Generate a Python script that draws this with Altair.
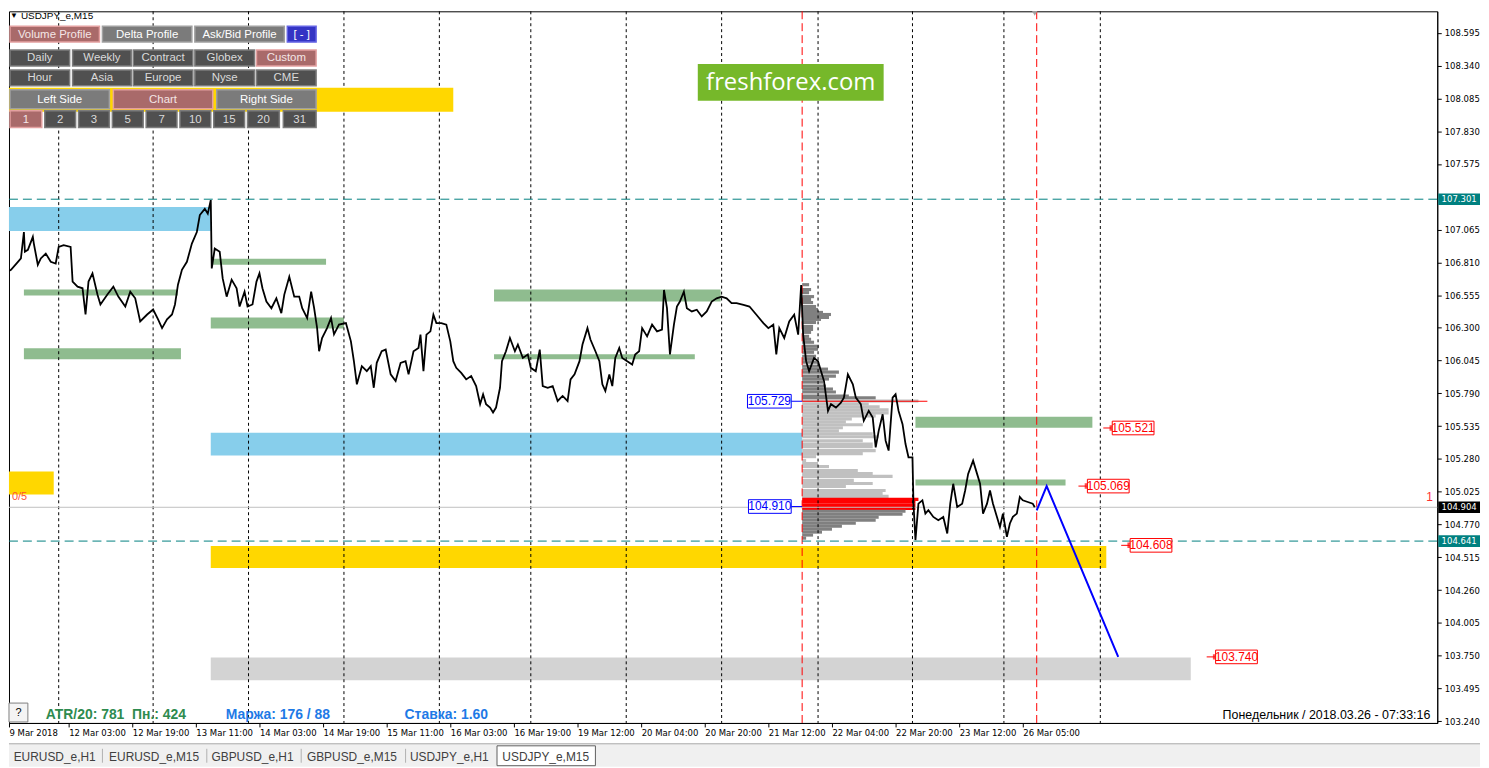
import json
import altair as alt
import pandas as pd

AX_FONT = "DejaVu Sans Condensed, Liberation Sans Narrow, DejaVu Sans"
UI_FONT = "Liberation Sans, Arial, sans-serif"

# ---------------- data ----------------
# M15 close series (bar index, price)
bars = [0,6,13,16,19,20,23,28,29,33,36,41,46,51,54,59,66,68,73,78,81,84,88,93,96,103,109,114,121,126,
        131,136,143,149,154,158,163,168,171,174,178,183,188,193,196,201,204,207,208,211,216,219,223,228,233,
        236,241,244,249,253,256,259,263,268,273,278,281,286,291,296,299,304,308,311,314,316,319,324,328,331,
        336,343,348,351,354,359,364,368,371,374,379,383,388,393,398,403,406,411,416,
        418,421,424,428,431,434,439,444,448,451,454,459,464,469,474,478,481,484,488,491,494,498,500,504,508,
        513,516,521,526,529,534,538,541,546,551,556,561,566,569,573,578,581,586,589,594,598,601,604,608,611,
        614,618,621,626,631,634,638,641,646,651,656,661,663,666,669,673,676,679,683,686,691,696,701,706,711,
        716,721,726,731,736,743,749,756,763,768,773,776,779,784,789,794,798,801,
        803,806,809,814,818,821,824,828,831,836,841,844,848,853,856,861,864,869,873,876,879,883,886,889,893,
        896,899,903,906,909,913,914,916,919,923,926,929,934,939,944,948,951,954,958,963,966,969,974,978,981,
        984,988,991,994,998,1001,1004,1008,1011,1014,1018,1021,1024,1029,1034,1036]
close = [106.724,106.752,106.814,106.840,107.046,106.892,106.907,107.008,106.956,106.791,106.840,106.878,
         106.814,106.801,106.930,106.943,106.930,106.660,106.621,106.608,106.404,106.660,106.724,106.559,
         106.482,106.559,106.621,106.543,106.466,106.582,106.530,106.350,106.404,106.443,106.366,106.298,
         106.366,106.404,106.482,106.636,106.752,106.814,106.956,107.046,107.178,107.226,107.188,107.294,
         106.762,106.917,106.892,106.685,106.543,106.675,106.608,106.466,106.582,106.466,106.482,106.660,
         106.724,106.608,106.505,106.453,106.530,106.414,106.559,106.698,106.543,106.543,106.453,106.376,
         106.582,106.453,106.298,106.118,106.221,106.298,106.376,106.250,106.325,106.337,106.195,106.041,
         105.861,106.002,105.963,106.002,105.834,106.028,106.118,106.131,105.938,105.886,106.028,106.041,
         105.938,106.118,106.144,
         106.247,105.963,106.247,106.273,106.402,106.337,106.337,106.325,106.195,106.041,105.989,105.950,
         105.899,105.925,105.847,105.706,105.783,105.706,105.680,105.641,105.680,105.834,106.041,106.118,
         106.221,106.118,106.170,106.066,106.093,105.989,105.963,106.131,105.847,105.834,105.847,105.731,
         105.770,105.731,105.899,105.938,106.041,106.170,106.298,106.209,106.118,106.041,105.861,105.809,
         105.938,105.847,106.066,106.144,106.066,106.041,106.015,106.093,106.118,106.298,106.234,106.325,
         106.273,106.286,106.595,106.453,106.093,106.325,106.466,106.505,106.582,106.453,106.428,106.441,
         106.389,106.428,106.505,106.530,106.543,106.530,106.492,106.492,106.479,106.466,106.402,106.337,
         106.298,106.325,106.093,106.298,106.221,106.350,106.402,106.247,106.634,
         106.247,106.041,105.963,106.066,106.041,105.963,105.886,105.654,105.706,105.680,105.718,105.757,
         105.938,105.861,105.757,105.706,105.577,105.654,105.602,105.370,105.499,105.628,105.422,105.345,
         105.757,105.783,105.654,105.551,105.396,105.293,105.293,104.932,104.649,104.932,104.958,104.855,
         104.881,104.829,104.803,104.829,104.700,104.932,105.087,104.906,104.932,105.035,105.164,105.267,
         105.164,105.087,104.855,104.932,105.035,104.932,104.829,104.751,104.855,104.674,104.778,104.829,
         104.855,104.984,104.958,104.945,104.932,104.904]
assert len(bars) == len(close), (len(bars), len(close))

# supply / demand zones
zone_kind = ["blue", "green", "green", "green", "green", "green", "green", "blue", "yellow", "yellow", "gray", "green", "green"]
zone_start = [0, 19, 19, 208, 207, 492, 492, 207, 0, 207, 207, 916, 916]
zone_end = [207, 174, 177, 323, 341, 720, 694, 802, 49, 1108, 1193, 1094, 1067]
zone_hi = [107.240, 106.598, 106.141, 106.837, 106.381, 106.598, 106.095, 105.484, 105.182, 104.602, 103.736, 105.608, 105.120]
zone_lo = [107.054, 106.551, 106.056, 106.791, 106.296, 106.505, 106.056, 105.306, 105.004, 104.432, 103.558, 105.523, 105.074]

# volume profile (starts at bar 802)
prof_start = 802
prof_price = [106.636,106.598,106.574,106.543,106.520,106.497,106.466,106.443,106.420,106.404,106.381,106.366,
              106.342,106.311,106.288,106.265,106.234,106.211,106.188,106.157,106.134,106.110,106.079,106.056,
              106.033,106.002,105.979,105.956,105.925,105.902,105.878,105.847,105.824,105.801,105.770,105.755,
              105.731,105.708,105.685,105.662,105.639,105.615,105.592,105.569,105.546,105.523,105.499,105.476,
              105.453,105.422,105.396,105.376,105.345,105.322,105.298,105.267,105.244,105.221,105.190,105.167,
              105.144,105.113,105.089,105.066,105.035,105.012,104.989,
              104.966,104.943,104.919,104.896,
              104.873,104.850,104.827,104.803,104.780,104.757,104.734,104.711,104.688,104.664]
prof_vol = [7,9,7,12,9,11,14,16,21,29,27,19,14,11,11,9,7,9,12,17,16,12,14,11,16,17,26,37,34,27,21,24,31,34,47,74,
            117,67,78,87,87,74,50,44,61,41,37,71,77,61,71,71,74,61,14,4,16,27,56,71,91,52,71,44,84,81,87,
            117,114,114,114,
            104,101,77,74,54,40,30,20,11,4]
prof_kind = ["dark"] * 36 + ["light"] * 31 + ["poc"] * 4 + ["dark"] * 10
assert len(prof_price) == len(prof_vol) == len(prof_kind)

day_breaks = [54, 149, 245, 341, 437, 529, 625, 721, 818, 913, 1005, 1102]
session_marks = [802, 1038]

forecast_bar = [1038, 1048, 1120]
forecast_price = [104.880, 105.069, 103.740]

target_price = [105.521, 105.069, 104.608, 103.740]
target_bar = [1114, 1089, 1132, 1218]
va_price = [105.729, 104.910]
va_bar = [747, 748]

bid_price = 104.904
level_lines = [107.301, 104.641]
tag_price = [107.301, 104.904, 104.641]
tag_kind = ["level", "bid", "level"]

time_ticks = [4] + [64 * i for i in range(1, 17)]
time_labels = ["9 Mar 2018", "12 Mar 03:00", "12 Mar 19:00", "13 Mar 11:00", "14 Mar 03:00", "14 Mar 19:00",
               "15 Mar 11:00", "16 Mar 03:00", "16 Mar 19:00", "19 Mar 12:00", "20 Mar 04:00", "20 Mar 20:00",
               "21 Mar 12:00", "22 Mar 04:00", "22 Mar 20:00", "23 Mar 12:00", "26 Mar 05:00"]
# 107.320 is hidden behind the 107.301 price tag in the terminal
y_ticks = [103.240, 103.495, 103.750, 104.005, 104.260, 104.515, 104.770, 105.025, 105.280, 105.535, 105.790,
           106.045, 106.300, 106.555, 106.810, 107.065, 107.575, 107.830, 108.085, 108.340, 108.595]

# ---------------- styles ----------------
ZONE_COL = {"blue": "#87CEEB", "green": "#8FBC8F", "yellow": "#FFD700", "gray": "#D3D3D3"}
PROF_COL = {"dark": "#808080", "light": "#C0C0C0", "poc": "#FF0000"}
TAG_COL = {"level": "#008080", "bid": "#000000"}

W, H = 1437, 716
xs = alt.Scale(domain=[4, 1441], nice=False, zero=False)
ys = alt.Scale(domain=[103.226, 108.763], nice=False, zero=False)

x_axis = alt.Axis(values=time_ticks, labelExpr=json.dumps(time_labels) + "[round(datum.value / 64)]",
                  title=None, grid=False, tickSize=4, tickColor="black", domainColor="black",
                  labelAlign="left", labelBaseline="top", labelPadding=1, labelFont=AX_FONT,
                  labelFontSize=9.5, labelColor="black", labelOverlap=False, labelFlush=False, labelBound=False)
y_axis = alt.Axis(orient="right", values=y_ticks, format=".3f", title=None, grid=False, tickSize=4,
                  tickColor="black", domainColor="black", labelPadding=3, labelFont=AX_FONT, labelFontSize=9.5,
                  labelColor="black", labelOverlap=False, labelFlush=False, labelBound=False)


def X(f):
    return alt.X(f + ":Q", scale=xs, axis=x_axis)


def Y(f):
    return alt.Y(f + ":Q", scale=ys, axis=y_axis)


def PX(f):
    return alt.X(f + ":Q", scale=None, axis=None)


def PY(f):
    return alt.Y(f + ":Q", scale=None, axis=None)


layers = []

# zones
dz = pd.DataFrame({"x0": zone_start, "x1": zone_end, "hi": zone_hi, "lo": zone_lo,
                   "c": [ZONE_COL[k] for k in zone_kind]})
layers.append(alt.Chart(dz).mark_rect(clip=True).encode(
    x=X("x0"), x2="x1", y=Y("hi"), y2="lo", color=alt.Color("c:N", scale=None)))

# volume profile
dp = pd.DataFrame({"x0": [prof_start] * len(prof_vol),
                   "x1": [prof_start + v for v in prof_vol],
                   "hi": [p + 0.0122 for p in prof_price],
                   "lo": [p - 0.0122 for p in prof_price],
                   "c": [PROF_COL[k] for k in prof_kind]})
layers.append(alt.Chart(dp).mark_rect().encode(
    x=X("x0"), x2="x1", y=Y("hi"), y2="lo", color=alt.Color("c:N", scale=None)))

# vertical separators
layers.append(alt.Chart(pd.DataFrame({"x": day_breaks})).mark_rule(
    color="black", strokeDash=[3, 3], strokeWidth=1).encode(x=X("x")))
layers.append(alt.Chart(pd.DataFrame({"x": session_marks})).mark_rule(
    color="#FF0000", strokeDash=[8, 4], strokeWidth=1).encode(x=X("x")))

# horizontal lines
layers.append(alt.Chart(pd.DataFrame({"p": [bid_price]})).mark_rule(
    color="#C0C0C0", strokeWidth=1).encode(y=Y("p")))
layers.append(alt.Chart(pd.DataFrame({"p": level_lines})).mark_rule(
    color="#008080", strokeDash=[9, 5], strokeWidth=1).encode(y=Y("p")))
layers.append(alt.Chart(pd.DataFrame({"x0": [prof_start], "x1": [928], "p": [va_price[0]]})).mark_rule(
    color="#FF0000", strokeWidth=1).encode(x=X("x0"), x2="x1", y=Y("p")))

# price
layers.append(alt.Chart(pd.DataFrame({"bar": bars, "close": close})).mark_line(
    color="black", strokeWidth=1.8, clip=True).encode(x=X("bar"), y=Y("close")))

# forecast
layers.append(alt.Chart(pd.DataFrame({"bar": forecast_bar, "p": forecast_price})).mark_line(
    color="#0000FF", strokeWidth=2).encode(x=X("bar"), y=Y("p")))

# target labels (red)
dt = pd.DataFrame({"p": target_price, "b": target_bar})
dt["c0"] = dt["b"] - 9
dt["b1"] = dt["b"] + 42
dt["mid"] = dt["b"] + 21
dt["hi"] = dt["p"] + 0.053
dt["lo"] = dt["p"] - 0.053
dt["t"] = [f"{v:.3f}" for v in target_price]
layers.append(alt.Chart(dt).mark_rule(color="#FF0000").encode(x=X("c0"), x2="b", y=Y("p")))
layers.append(alt.Chart(dt).mark_square(color="#FF0000", filled=False, size=12).encode(x=X("b"), y=Y("p")))
layers.append(alt.Chart(dt).mark_rect(fill="white", stroke="#FF0000", strokeWidth=1).encode(
    x=X("b"), x2="b1", y=Y("hi"), y2="lo"))
layers.append(alt.Chart(dt).mark_text(color="#FF0000", font=UI_FONT, fontSize=12, align="center",
                                      baseline="middle").encode(x=X("mid"), y=Y("p"), text="t:N"))

# value-area labels (blue)
dv = pd.DataFrame({"p": va_price, "b": va_bar})
dv["b1"] = 791
dv["c1"] = prof_start
dv["mid"] = (dv["b"] + dv["b1"]) / 2
dv["hi"] = dv["p"] + 0.053
dv["lo"] = dv["p"] - 0.053
dv["t"] = [f"{v:.3f}" for v in va_price]
layers.append(alt.Chart(dv).mark_rule(color="#0000FF").encode(x=X("b1"), x2="c1", y=Y("p")))
layers.append(alt.Chart(dv).mark_rect(fill="white", stroke="#0000FF", strokeWidth=1).encode(
    x=X("b"), x2="b1", y=Y("hi"), y2="lo"))
layers.append(alt.Chart(dv).mark_text(color="#0000FF", font=UI_FONT, fontSize=12, align="center",
                                      baseline="middle").encode(x=X("mid"), y=Y("p"), text="t:N"))

# price tags on the right axis
dg = pd.DataFrame({"p": tag_price, "c": [TAG_COL[k] for k in tag_kind]})
dg["x0"] = 1442
dg["x1"] = 1484
dg["mid"] = 1463
dg["hi"] = dg["p"] + 0.045
dg["lo"] = dg["p"] - 0.045
dg["t"] = [f"{v:.3f}" for v in tag_price]
layers.append(alt.Chart(dg).mark_rect().encode(
    x=X("x0"), x2="x1", y=Y("hi"), y2="lo", color=alt.Color("c:N", scale=None)))
layers.append(alt.Chart(dg).mark_text(color="white", font=AX_FONT, fontSize=9.5, align="center",
                                      baseline="middle").encode(x=X("mid"), y=Y("p"), text="t:N"))

# ---------------- terminal chrome (pixel positioned) ----------------
ROSY = ("#A96A6A", "#E3A0A0", "#F4E6E6")
GREY = ("#7B7B7B", "#A0A0A0", "#FFFFFF")
DARK = ("#505050", "#7C7C7C", "#DADADA")
BLUE = ("#3434C4", "#6464E4", "#FFFFFF")
buttons = [
    ("Volume Profile", 1, 91, 15, 31, ROSY), ("Delta Profile", 94, 184, 15, 31, GREY),
    ("Ask/Bid Profile", 187, 277, 15, 31, GREY), ("[ - ]", 280, 309, 15, 31, BLUE),
    ("Daily", 1, 61, 39, 55, DARK), ("Weekly", 64, 123, 39, 55, DARK), ("Contract", 125, 185, 39, 55, DARK),
    ("Globex", 187, 247, 39, 55, DARK), ("Custom", 249, 309, 39, 55, ROSY),
    ("Hour", 1, 61, 59, 75, DARK), ("Asia", 64, 123, 59, 75, DARK), ("Europe", 125, 185, 59, 75, DARK),
    ("Nyse", 187, 247, 59, 75, DARK), ("CME", 249, 309, 59, 75, DARK),
    ("Left Side", 1, 101, 79, 98, GREY), ("Chart", 105, 205, 79, 98, ROSY), ("Right Side", 209, 309, 79, 98, GREY),
    ("1", 1, 33, 100, 117, ROSY), ("2", 36, 67, 100, 117, DARK), ("3", 70, 101, 100, 117, DARK),
    ("5", 104, 135, 100, 117, DARK), ("7", 138, 169, 100, 117, DARK), ("10", 172, 203, 100, 117, DARK),
    ("15", 206, 237, 100, 117, DARK), ("20", 240, 272, 100, 117, DARK), ("31", 276, 309, 100, 117, DARK),
]
db = pd.DataFrame([{"t": b[0], "x0": b[1], "x1": b[2], "y0": b[3], "y1": b[4],
                    "f": b[5][0], "s": b[5][1], "tc": b[5][2]} for b in buttons])
db["xm"] = (db["x0"] + db["x1"]) / 2
db["ym"] = (db["y0"] + db["y1"]) / 2 + 0.5

panel = pd.DataFrame({"x0": [0], "x1": [447], "y0": [77], "y1": [101]})
layers.append(alt.Chart(panel).mark_rect(color="#FFD700").encode(x=PX("x0"), x2="x1", y=PY("y0"), y2="y1"))
layers.append(alt.Chart(db).mark_rect(strokeWidth=1.5).encode(
    x=PX("x0"), x2="x1", y=PY("y0"), y2="y1",
    fill=alt.Fill("f:N", scale=None), stroke=alt.Stroke("s:N", scale=None)))
layers.append(alt.Chart(db).mark_text(font=UI_FONT, fontSize=11.5, align="center", baseline="middle").encode(
    x=PX("xm"), y=PY("ym"), text="t:N", color=alt.Color("tc:N", scale=None)))

# logo
logo = pd.DataFrame({"x0": [693], "x1": [880], "y0": [53], "y1": [90], "xm": [786.5], "ym": [72], "t": ["freshforex.com"]})
layers.append(alt.Chart(logo).mark_rect(color="#76B82A").encode(x=PX("x0"), x2="x1", y=PY("y0"), y2="y1"))
layers.append(alt.Chart(logo).mark_text(color="white", font="Open Sans, Liberation Sans", fontSize=24,
                                        align="center", baseline="middle").encode(x=PX("xm"), y=PY("ym"), text="t:N"))

# help button
helpb = pd.DataFrame({"x0": [0], "x1": [19], "y0": [696], "y1": [715], "xm": [9.5], "ym": [705.5], "t": ["?"]})
layers.append(alt.Chart(helpb).mark_rect(fill="#F4F4F4", stroke="#808080").encode(
    x=PX("x0"), x2="x1", y=PY("y0"), y2="y1"))
layers.append(alt.Chart(helpb).mark_text(color="black", font=UI_FONT, fontSize=11, align="center",
                                         baseline="middle").encode(x=PX("xm"), y=PY("ym"), text="t:N"))

# free texts
NB = "\u00a0"
texts = pd.DataFrame([
    {"t": "▼", "x": 1, "y": 5, "c": "#000000", "s": 8, "w": "normal", "a": "left"},
    {"t": "USDJPY_e,M15", "x": 12, "y": 5, "c": "#000000", "s": 10, "w": "normal", "a": "left"},
    {"t": "0/5", "x": 3, "y": 489, "c": "#FF5030", "s": 11, "w": "normal", "a": "left"},
    {"t": "1", "x": 1426, "y": 489, "c": "#FF3030", "s": 12, "w": "normal", "a": "left"},
    {"t": "ATR/20: 781" + NB + NB + "Пн.: 424", "x": 37, "y": 708, "c": "#2E8B4F", "s": 14, "w": "bold", "a": "left"},
    {"t": "Маржа: 176 / 88", "x": 218, "y": 708, "c": "#1E7AE6", "s": 14, "w": "bold", "a": "left"},
    {"t": "Ставка: 1.60", "x": 398, "y": 708, "c": "#1E7AE6", "s": 14, "w": "bold", "a": "left"},
    {"t": "Понедельник / 2018.03.26 - 07:33:16", "x": 1430, "y": 708, "c": "#000000", "s": 12.5, "w": "normal", "a": "right"},
])
for w in ["normal", "bold"]:
    for a in ["left", "right"]:
        sub = texts[(texts["w"] == w) & (texts["a"] == a)]
        if len(sub) == 0:
            continue
        layers.append(alt.Chart(sub).mark_text(font=UI_FONT, fontWeight=w, align=a, baseline="middle").encode(
            x=PX("x"), y=PY("y"), text="t:N", color=alt.Color("c:N", scale=None),
            size=alt.Size("s:Q", scale=None)))

# top marker
layers.append(alt.Chart(pd.DataFrame({"x": [1032], "y": [2]})).mark_point(
    shape="triangle-down", filled=True, color="#A0A0A0", size=30, opacity=1).encode(x=PX("x"), y=PY("y")))

# tab bar
tabbar = pd.DataFrame({"x0": [0], "x1": [1480], "y0": [738], "y1": [760]})
layers.append(alt.Chart(tabbar).mark_rect(color="#F0F0F0").encode(x=PX("x0"), x2="x1", y=PY("y0"), y2="y1"))
layers.append(alt.Chart(pd.DataFrame({"x0": [0], "x1": [1480], "y": [737]})).mark_rule(color="#A0A0A0").encode(
    x=PX("x0"), x2="x1", y=PY("y")))
tab_names = ["EURUSD_e,H1", "EURUSD_e,M15", "GBPUSD_e,H1", "GBPUSD_e,M15", "USDJPY_e,H1", "USDJPY_e,M15"]
tab_mid = [46, 146, 245, 345, 443, 540]
active = pd.DataFrame({"x0": [491], "x1": [590], "y0": [739], "y1": [759]})
layers.append(alt.Chart(active).mark_rect(fill="white", stroke="#606060").encode(
    x=PX("x0"), x2="x1", y=PY("y0"), y2="y1"))
layers.append(alt.Chart(pd.DataFrame({"x": [94, 199, 294, 399], "y0": [742] * 4, "y1": [756] * 4})).mark_rule(
    color="#B0B0B0").encode(x=PX("x"), y=PY("y0"), y2="y1"))
layers.append(alt.Chart(pd.DataFrame({"x": tab_mid, "y": [750] * 6, "t": tab_names})).mark_text(
    font=UI_FONT, fontSize=12, color="#404040", align="center", baseline="middle").encode(
    x=PX("x"), y=PY("y"), text="t:N"))

chart = alt.layer(*layers).properties(width=W, height=H, padding=0, background="white").configure_view(
    stroke="black", strokeWidth=1)

chart.save("out.html", embed_options={"renderer": "svg", "actions": False})
